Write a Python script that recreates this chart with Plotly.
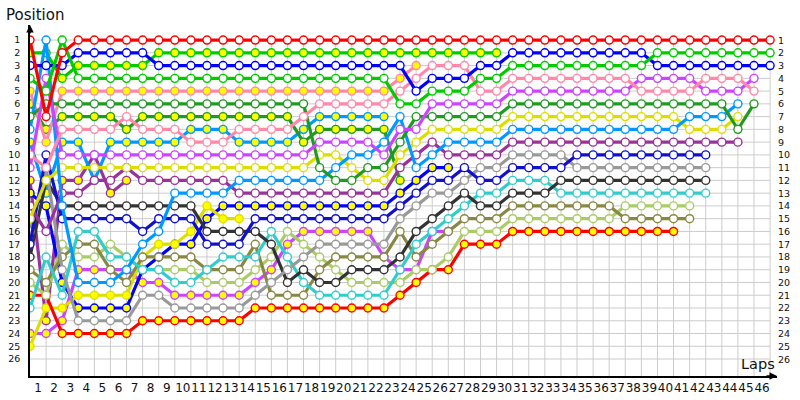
import plotly.graph_objects as go

laps = list(range(47))
positions = list(range(1, 27))
lap_labels = [str(n) for n in range(1, 47)]

# position per lap (lap 0 = grid), list stops when the car drops out
red_open = [1, 7, 2, 1, 1, 1, 1, 1, 1, 1,
            1, 1, 1, 1, 1, 1, 1, 1, 1, 1,
            1, 1, 1, 1, 1, 1, 1, 1, 1, 1,
            1, 1, 1, 1, 1, 1, 1, 1, 1, 1,
            1, 1, 1, 1, 1, 1, 1]
green_open = [4, 5, 1, 4, 4, 4, 4, 4, 4, 4,
              4, 4, 4, 4, 4, 4, 4, 4, 4, 4,
              4, 4, 4, 6, 6, 5, 5, 5, 4, 4,
              3, 3, 3, 3, 3, 3, 3, 3, 3, 2,
              2, 2, 2, 2, 2, 2, 2]
blue_open = [3, 3, 3, 2, 2, 2, 2, 2, 3, 3,
             3, 3, 3, 3, 3, 3, 3, 3, 3, 3,
             3, 3, 3, 3, 5, 4, 4, 4, 3, 3,
             2, 2, 2, 2, 2, 2, 2, 2, 2, 3,
             3, 3, 3, 3, 3, 3, 3]
pink_open = [10, 11, 8, 8, 8, 8, 7, 8, 8, 8,
             9, 9, 9, 8, 8, 8, 8, 7, 6, 6,
             6, 6, 6, 5, 4, 3, 3, 3, 5, 5,
             4, 4, 4, 4, 4, 4, 4, 4, 5, 5,
             5, 5, 4, 4, 4, 5]
violet_open = [11, 4, 10, 10, 10, 10, 10, 10, 10, 10,
               10, 10, 10, 10, 10, 10, 10, 10, 9, 9,
               9, 9, 10, 8, 8, 6, 6, 6, 6, 6,
               5, 5, 5, 5, 5, 5, 5, 5, 4, 4,
               4, 4, 5, 5, 5, 4]
dkgreen_open = [7, 6, 6, 6, 6, 6, 6, 6, 6, 6,
                6, 6, 6, 6, 6, 6, 6, 6, 11, 12,
                12, 11, 11, 9, 7, 7, 7, 7, 7, 7,
                6, 6, 6, 6, 6, 6, 6, 6, 6, 6,
                6, 6, 6, 6, 8, 6]
sky_open = [8, 1, 14, 20, 20, 20, 19, 17, 16, 13,
            13, 13, 13, 12, 12, 12, 12, 12, 12, 11,
            10, 10, 9, 7, 11, 10, 9, 9, 9, 9,
            8, 8, 8, 8, 8, 8, 8, 8, 8, 8,
            8, 7, 7, 7, 6]
yellow_open = [15, 12, 11, 11, 11, 11, 11, 11, 11, 11,
               11, 11, 11, 11, 11, 11, 11, 11, 10, 10,
               11, 12, 12, 10, 9, 8, 8, 8, 8, 8,
               7, 7, 7, 7, 7, 7, 7, 7, 7, 7,
               7, 8, 8, 8, 7]
plum_open = [14, 16, 13, 13, 12, 12, 11, 12, 12, 12,
             12, 12, 12, 13, 13, 13, 13, 13, 13, 13,
             13, 13, 13, 11, 10, 9, 10, 10, 10, 10,
             9, 9, 9, 9, 9, 9, 9, 9, 9, 9,
             9, 9, 9, 9, 9]
navy_open = [17, 10, 15, 15, 15, 15, 15, 16, 15, 15,
             15, 17, 17, 17, 15, 15, 15, 15, 15, 15,
             15, 15, 15, 14, 13, 12, 12, 11, 12, 12,
             11, 11, 11, 11, 10, 10, 10, 10, 10, 10,
             10, 10, 10]
gray_open = [16, 11, 19, 23, 23, 23, 23, 21, 21, 22,
             22, 22, 22, 22, 21, 20, 19, 18, 17, 17,
             17, 17, 17, 15, 14, 13, 13, 12, 11, 11,
             10, 10, 10, 10, 11, 11, 11, 11, 11, 11,
             11, 11, 11]
black_open = [18, 12, 14, 14, 14, 14, 14, 14, 14, 14,
              14, 16, 16, 16, 16, 17, 20, 19, 20, 20,
              19, 19, 19, 18, 16, 15, 14, 13, 14, 14,
              13, 13, 13, 12, 12, 12, 12, 12, 12, 12,
              12, 12, 12]
teal_open = [22, 18, 21, 16, 16, 18, 18, 19, 19, 20,
             20, 19, 18, 18, 18, 16, 18, 20, 21, 21,
             21, 21, 21, 19, 17, 16, 15, 14, 13, 13,
             12, 12, 12, 13, 13, 13, 13, 13, 13, 13,
             13, 13, 13]
olive_open = [19, 20, 18, 17, 17, 19, 20, 18, 18, 18,
              18, 19, 19, 19, 17, 21, 21, 21, 19, 18,
              18, 18, 18, 16, 18, 17, 16, 15, 15, 15,
              14, 14, 14, 14, 14, 14, 14, 15, 15, 15,
              15, 15]
lime_open = [20, 21, 17, 18, 18, 17, 18, 19, 19, 19,
             19, 20, 20, 20, 19, 18, 16, 17, 18, 19,
             20, 20, 20, 20, 19, 19, 18, 16, 16, 16,
             15, 15, 15, 15, 15, 15, 15, 14, 14, 14,
             14, 14]
red_filled = [21, 21, 24, 24, 24, 24, 24, 23, 23, 23,
              23, 23, 23, 23, 22, 22, 22, 22, 22, 22,
              22, 22, 22, 21, 20, 19, 19, 17, 17, 17,
              16, 16, 16, 16, 16, 16, 16, 16, 16, 16,
              16]
green_filled = [2, 2, 4, 3, 3, 3, 3, 3, 2, 2,
                2, 2, 2, 2, 2, 2, 2, 2, 2, 2,
                2, 2, 2, 2, 2, 2, 2, 2, 2, 2]
pink_filled = [5, 9, 5, 5, 5, 5, 5, 5, 5, 5,
               5, 5, 5, 5, 5, 5, 5, 5, 5, 5,
               5, 5, 5, 4, 3]
dkgreen_filled = [6, 8, 7, 7, 7, 7, 8, 7, 7, 7,
                  7, 7, 7, 7, 7, 7, 7, 9, 8, 8,
                  8, 8, 8, 12]
sky_filled = [9, 13, 9, 9, 12, 9, 9, 9, 9, 9,
              8, 8, 8, 9, 9, 9, 9, 8, 7, 7,
              7, 7, 7]
yellow_filled = [25, 22, 22, 21, 21, 21, 21, 18, 17, 17,
                 16, 14, 15, 15]
blue_filled = [13, 14, 20, 22, 22, 22, 22, 19, 18, 17,
               17, 15, 14, 14, 14, 14, 14, 14, 14, 14,
               14, 14, 14, 13, 12, 11, 11]
violet_filled = [24, 24, 23, 19, 19, 19, 19, 20, 20, 21,
                 21, 21, 21, 21, 20, 19, 17, 16, 16, 16,
                 16, 16, 18, 19, 19, 16, 16]
plum_filled = [12, 23, 12, 12, 10, 13, 12]

WHITE = "#FFFFFF"
YELLOW = "#FFFF00"
cars = [
    (plum_filled, "#993399", YELLOW),
    (violet_filled, "#CC44FF", YELLOW),
    (blue_filled, "#0000FF", YELLOW),
    (yellow_filled, "#DDDD00", YELLOW),
    (sky_filled, "#0099FF", YELLOW),
    (dkgreen_filled, "#229922", YELLOW),
    (pink_filled, "#FF88AA", YELLOW),
    (green_filled, "#00CC00", YELLOW),
    (red_filled, "#FF0000", YELLOW),
    (lime_open, "#AACC66", WHITE),
    (olive_open, "#888844", WHITE),
    (teal_open, "#33CCCC", WHITE),
    (black_open, "#333333", WHITE),
    (gray_open, "#999999", WHITE),
    (navy_open, "#1111CC", WHITE),
    (plum_open, "#993399", WHITE),
    (yellow_open, "#DDDD00", WHITE),
    (sky_open, "#0099FF", WHITE),
    (dkgreen_open, "#229922", WHITE),
    (violet_open, "#CC44FF", WHITE),
    (pink_open, "#FF88AA", WHITE),
    (blue_open, "#0000FF", WHITE),
    (green_open, "#00CC00", WHITE),
    (red_open, "#FF0000", WHITE),
]

fig = go.Figure()
for series, color, fill in cars:
    fig.add_trace(go.Scatter(
        x=laps[:len(series)], y=series,
        mode="lines+markers",
        line={"color": color, "width": 3.2},
        marker={"symbol": "circle", "size": 8, "color": fill,
                "line": {"color": color, "width": 1.4}},
        showlegend=False, hoverinfo="skip",
    ))

X_MAX = 46.43
Y_BOTTOM = 27.33
grid = {"type": "line", "layer": "below", "line": {"color": "#CCCCCC", "width": 1}}
shapes = [dict(grid, x0=k, x1=k, y0=1, y1=Y_BOTTOM) for k in laps[1:]]
shapes += [dict(grid, x0=0, x1=laps[-1], y0=p, y1=p) for p in positions]

annotations = [
    dict(x=1, xref="paper", y=p, yref="y", text=str(p), showarrow=False,
         xanchor="left", xshift=-1, font={"size": 9.5, "color": "#111"})
    for p in positions
]
annotations += [
    dict(x=0, y=-0.18, xref="x", yref="y", ax=0, ay=10, text="", showarrow=True,
         arrowhead=2, arrowsize=1, arrowwidth=1.5, arrowcolor="black"),
    dict(x=X_MAX, y=Y_BOTTOM, xref="x", yref="y", ax=-12, ay=0, text="", showarrow=True,
         arrowhead=2, arrowsize=1, arrowwidth=1.5, arrowcolor="black"),
    dict(x=-0.035, y=1.0285, xref="paper", yref="paper", text="Position", showarrow=False,
         xanchor="left", yanchor="middle", font={"size": 15, "color": "#111"}),
    dict(x=1.0, y=0.034, xref="paper", yref="paper", text="Laps", showarrow=False,
         xanchor="right", yanchor="middle", font={"size": 14.5, "color": "#111"}),
]

fig.update_layout(
    width=800, height=400,
    margin={"l": 30, "r": 23, "t": 25, "b": 24},
    paper_bgcolor="white", plot_bgcolor="white",
    font={"family": "DejaVu Sans", "color": "#111"},
    shapes=shapes, annotations=annotations,
    xaxis={
        "range": [0, X_MAX], "showgrid": False, "zeroline": False, "automargin": False,
        "showline": True, "linecolor": "black", "linewidth": 1.5,
        "tickmode": "array", "tickvals": [n - 0.5 for n in range(1, 47)],
        "ticktext": lap_labels, "ticks": "", "tickangle": 0, "tickfont": {"size": 12},
    },
    yaxis={
        "range": [Y_BOTTOM, -0.18], "showgrid": False, "zeroline": False, "automargin": False,
        "showline": True, "linecolor": "black", "linewidth": 1.5,
        "tickmode": "array", "tickvals": positions,
        "ticktext": [str(p) for p in positions], "ticks": "",
        "tickfont": {"size": 9.5}, "ticklabelstandoff": 6,
    },
)

# the page's default body margin would push the 800x400 figure off the window
fig.write_html(
    "out.html",
    config={"displayModeBar": False},
    post_script="document.body.style.margin='0';document.body.style.overflow='hidden';",
)
